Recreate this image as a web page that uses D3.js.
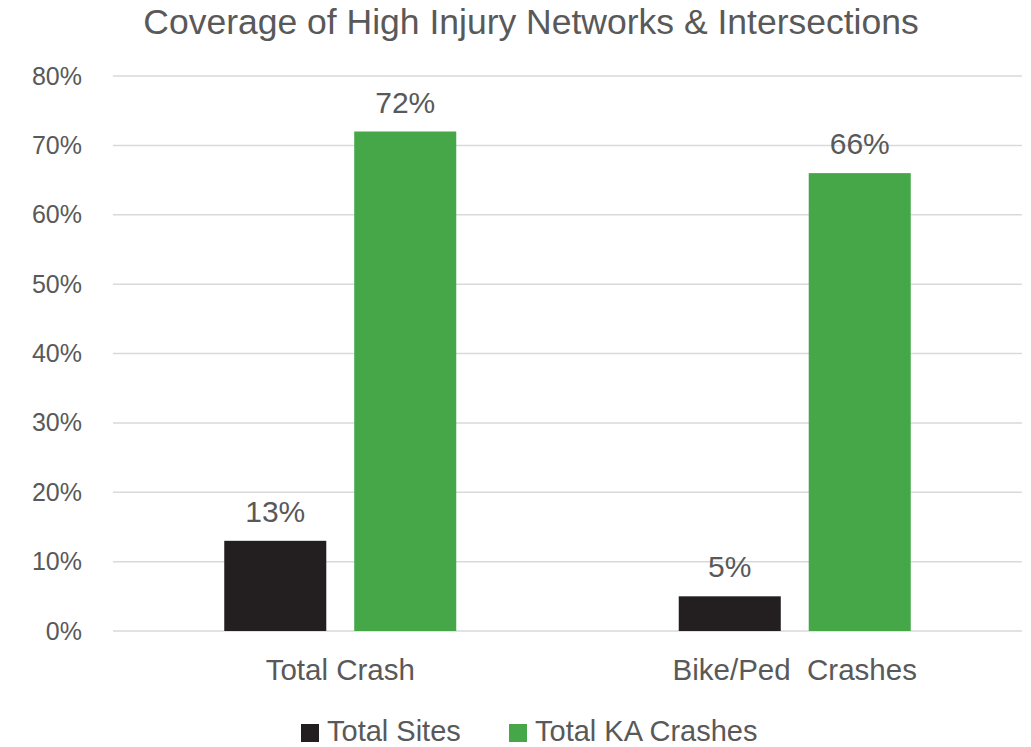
<!DOCTYPE html>
<html>
<head>
<meta charset="utf-8">
<script src="https://cdn.jsdelivr.net/npm/d3@7"></script>
<style>
  body { margin: 0; background: #fff; }
  svg text { font-family: "Liberation Sans", Arial, sans-serif; fill: #595959; }
</style>
</head>
<body>
<div id="chart"></div>
<script>
// data
const categories = ["Total Crash", "Bike/Ped  Crashes"];
const seriesNames = ["Total Sites", "Total KA Crashes"];
const totalSites = [13, 5];
const totalKACrashes = [72, 66];
const yTicks = [0, 10, 20, 30, 40, 50, 60, 70, 80];
const colors = ["#231f20", "#46a749"];

const W = 1031, H = 747;
const margin = { top: 76, right: 9, bottom: 116, left: 113 };
const width = W - margin.left - margin.right;
const height = H - margin.top - margin.bottom;
const groupW = 232; // two bars + gap inside a category

const svg = d3.select("#chart").append("svg")
    .attr("width", W)
    .attr("height", H);

// title
svg.append("text")
    .attr("x", 531)
    .attr("y", 34)
    .attr("text-anchor", "middle")
    .style("font-size", "35.5px")
    .text("Coverage of High Injury Networks & Intersections");

const g = svg.append("g")
    .attr("transform", `translate(${margin.left},${margin.top})`);

const x0 = d3.scaleBand().domain(categories).range([0, width]);
const x1 = d3.scaleBand().domain(seriesNames)
    .range([0, groupW]).paddingInner(0.215);
const y = d3.scaleLinear().domain([0, 80]).range([height, 0]);

// gridlines
g.append("g")
    .selectAll("line")
    .data(yTicks)
    .join("line")
      .attr("x1", 0)
      .attr("x2", width)
      .attr("y1", d => y(d))
      .attr("y2", d => y(d))
      .attr("stroke", "#d9d9d9")
      .attr("stroke-width", 1.5);

// y axis labels
const yAxis = g.append("g")
    .call(d3.axisLeft(y).tickValues(yTicks).tickFormat(d => d + "%").tickSize(0).tickPadding(31));
yAxis.select(".domain").remove();
yAxis.selectAll("text")
    .style("font-size", "25px")
    .style("fill", "#595959")
    .style("font-family", "'Liberation Sans', Arial, sans-serif");

// bars
const rows = categories.map((c, i) => ({
    cat: c,
    vals: [
        { name: seriesNames[0], v: totalSites[i], color: colors[0] },
        { name: seriesNames[1], v: totalKACrashes[i], color: colors[1] }
    ]
}));

const groups = g.selectAll(".grp")
    .data(rows)
    .join("g")
      .attr("class", "grp")
      .attr("transform", d => `translate(${x0(d.cat) + (x0.bandwidth() - groupW) / 2},0)`);

groups.selectAll("rect")
    .data(d => d.vals)
    .join("rect")
      .attr("x", d => x1(d.name))
      .attr("y", d => y(d.v))
      .attr("width", x1.bandwidth())
      .attr("height", d => height - y(d.v))
      .attr("fill", d => d.color);

groups.selectAll(".lbl")
    .data(d => d.vals)
    .join("text")
      .attr("class", "lbl")
      .attr("x", d => x1(d.name) + x1.bandwidth() / 2)
      .attr("y", d => y(d.v) - 19)
      .attr("text-anchor", "middle")
      .style("font-size", "30px")
      .text(d => d.v + "%");

// category labels
g.selectAll(".cat")
    .data(categories)
    .join("text")
      .attr("class", "cat")
      .attr("x", d => x0(d) + x0.bandwidth() / 2)
      .attr("y", height + 49)
      .attr("text-anchor", "middle")
      .style("font-size", "29.5px")
      .style("white-space", "pre")
      .attr("xml:space", "preserve")
      .text(d => d);

// legend
const legendX = [301, 509];
const legend = svg.selectAll(".leg")
    .data(seriesNames)
    .join("g")
      .attr("class", "leg")
      .attr("transform", (d, i) => `translate(${legendX[i]},724)`);
legend.append("rect")
    .attr("width", 18)
    .attr("height", 18)
    .attr("fill", (d, i) => colors[i]);
legend.append("text")
    .attr("x", 26)
    .attr("y", 17)
    .style("font-size", "29px")
    .text(d => d);
</script>
</body>
</html>
